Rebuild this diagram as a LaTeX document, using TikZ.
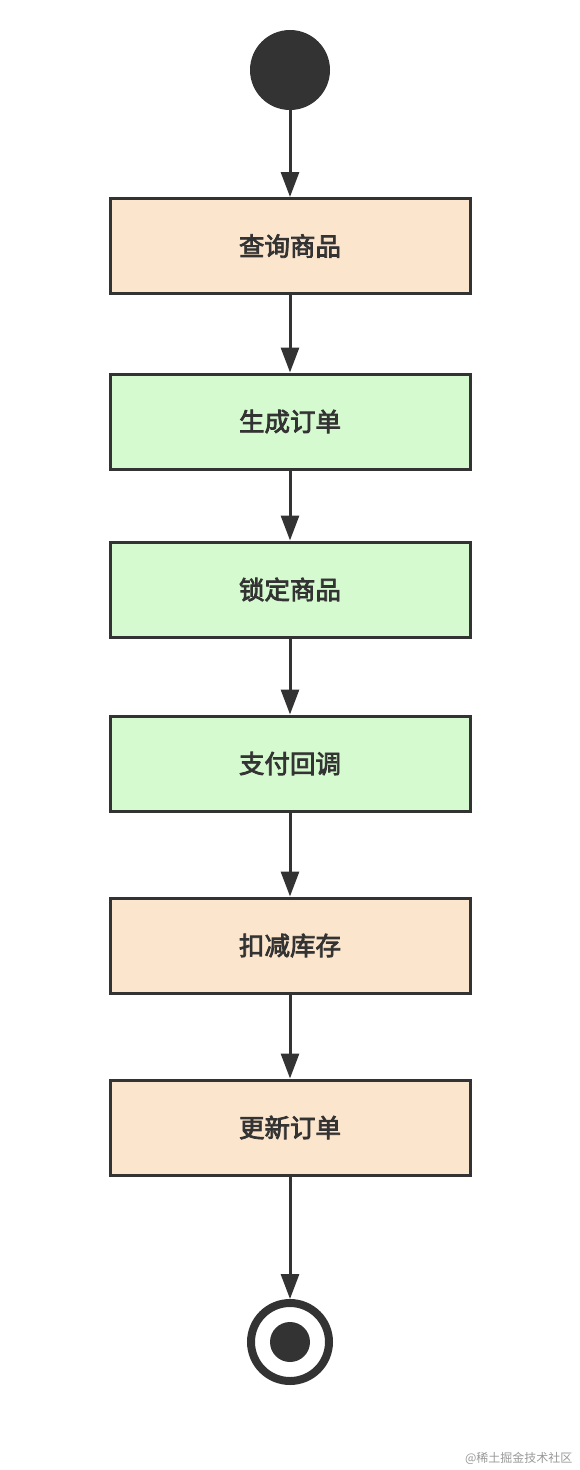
\documentclass[tikz,border=0pt]{standalone}
\usepackage{fontspec}
\newfontfamily\cjk{Noto Sans CJK SC}
\newfontfamily\cjkmid[FakeBold=3]{Noto Sans CJK SC}
\usetikzlibrary{arrows.meta}
\definecolor{ink}{HTML}{333333}
\definecolor{peach}{HTML}{FCE5CD}
\definecolor{mint}{HTML}{D6FAD0}
\tikzset{
    stepbox/.style={draw=ink, line width=3pt, minimum width=360pt, minimum height=95pt, font=\cjkmid\fontsize{25.5}{30}\selectfont, text=ink},
    flow/.style={draw=ink, line width=3pt, -{Triangle[length=25pt,width=18pt]}}
}
\begin{document}
\begin{tikzpicture}[x=1pt, y=-1pt]
                \useasboundingbox[fill=white] (0, 0) rectangle (580, 1470);

                %%start and end
                \node[circle, fill=ink, minimum size=80pt, inner sep=0pt] (start) at (290, 70){};
                \node[circle, draw=ink, line width=8pt, minimum size=78pt, inner sep=0pt] (stop) at (290, 1342){};
                    \fill[ink] (stop.center) circle (20pt);

                %%boxes
                \node[stepbox, fill=peach] (query) at (290, 246){查询商品};
                \node[stepbox, fill=mint] (order) at (290, 421.5){生成订单};
                \node[stepbox, fill=mint] (lock) at (290, 589.5){锁定商品};
                \node[stepbox, fill=mint] (pay) at (290, 763.5){支付回调};
                \node[stepbox, fill=peach] (stock) at (290, 945.5){扣减库存};
                \node[stepbox, fill=peach] (update) at (290, 1127.5){更新订单};

                %%arrows
                \draw[flow](start) to (query);
                \draw[flow](query) to (order);
                \draw[flow](order) to (lock);
                \draw[flow](lock) to (pay);
                \draw[flow](pay) to (stock);
                \draw[flow](stock) to (update);
                \draw[flow](update) to (stop);

                \node[text=ink!50, font=\cjk\fontsize{12}{14}\selectfont, anchor=east] (mark) at (576, 1458){@稀土掘金技术社区};
\end{tikzpicture}
\end{document}
